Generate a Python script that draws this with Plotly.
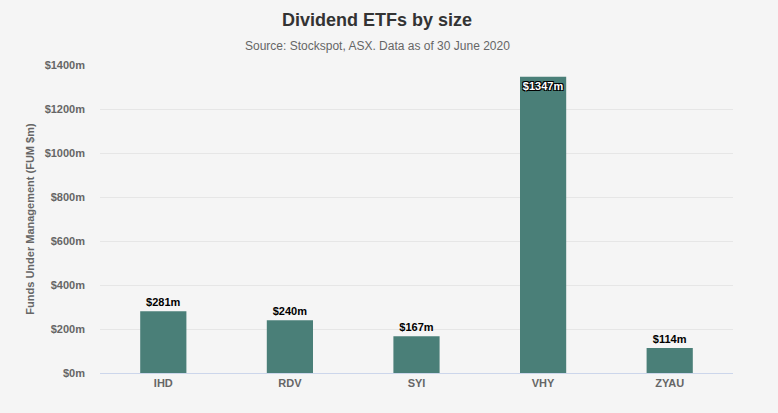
import plotly.graph_objects as go

categories = ["IHD", "RDV", "SYI", "VHY", "ZYAU"]
fum = [281, 240, 167, 1347, 114]
labels = ["$281m", "$240m", "$167m", "$1347m", "$114m"]
tick_vals = [0, 200, 400, 600, 800, 1000, 1200, 1400]
tick_text = ["$0m", "$200m", "$400m", "$600m", "$800m", "$1000m", "$1200m", "$1400m"]

positions = ["inside" if v > 1000 else "outside" for v in fum]

fig = go.Figure(go.Bar(
    x=categories, y=fum, text=labels, textposition=positions, textangle=0,
    insidetextanchor="end", constraintext="none", cliponaxis=False,
    marker=dict(color="#4a7f78", line=dict(width=0)),
    outsidetextfont=dict(family="Liberation Sans, Arial", size=11, color="#000000", weight="bold"),
    insidetextfont=dict(family="Liberation Sans, Arial", size=11, color="#ffffff", weight="bold",
                        shadow="1px 1px 0 #000, -1px -1px 0 #000, 1px -1px 0 #000, -1px 1px 0 #000"),
    hoverinfo="skip",
))

fig.update_layout(
    width=778, height=413,
    paper_bgcolor="#f5f5f5", plot_bgcolor="#f5f5f5",
    margin=dict(l=100, r=45, t=65, b=40, autoexpand=False),
    bargap=0.635,
    showlegend=False,
    font=dict(family="Liberation Sans, Arial", color="#666666"),
    title=dict(text="<b>Dividend ETFs by size</b>", x=0.4846, xanchor="center", y=0.952, yanchor="middle",
               font=dict(size=18, color="#333333")),
    annotations=[dict(text="Source: Stockspot, ASX. Data as of 30 June 2020", xref="paper", yref="paper",
                      x=0.4376, y=1.0, yshift=19, xanchor="center", yanchor="middle", showarrow=False,
                      font=dict(size=12, color="#666666"))],
)
fig.update_xaxes(showgrid=False, showline=True, linecolor="#ccd6eb", linewidth=1, ticks="",
                 tickfont=dict(size=11, color="#666666", weight="bold"))
fig.update_yaxes(range=[0, 1400], tickvals=tick_vals, ticktext=tick_text, gridcolor="#e6e6e6",
                 zeroline=False, showline=False, ticks="", ticklen=0, ticklabelstandoff=14,
                 tickfont=dict(size=11, color="#666666", weight="bold"),
                 title=dict(text="Funds Under Management (FUM $m)", standoff=7,
                            font=dict(size=11, color="#666666", weight="bold")))

fig.write_html("out.html", config={"displayModeBar": False},
               post_script="document.body.style.margin='0';document.body.style.background='#f5f5f5';")
